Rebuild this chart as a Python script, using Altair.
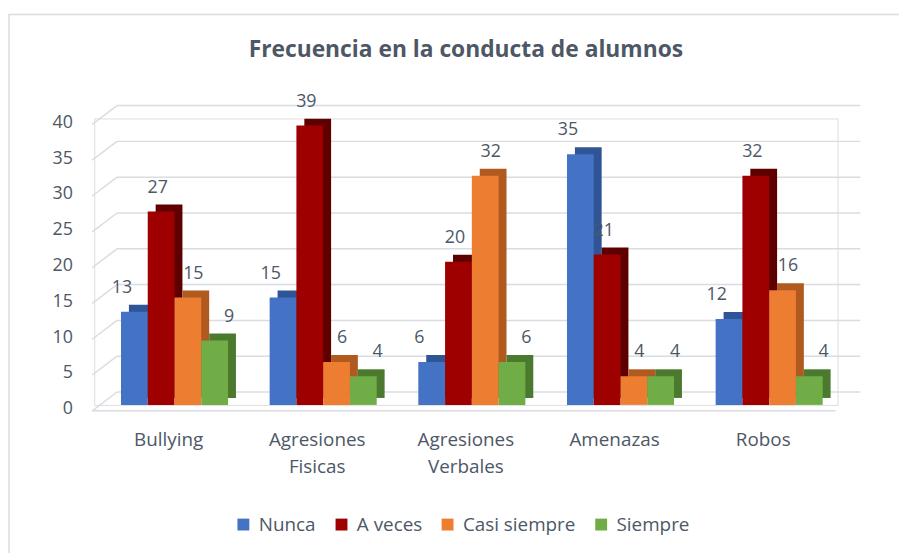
import altair as alt
import pandas as pd

categories = ["Bullying", "Agresiones Fisicas", "Agresiones Verbales", "Amenazas", "Robos"]
series = ["Nunca", "A veces", "Casi siempre", "Siempre"]
nunca = [13, 15, 6, 35, 12]
a_veces = [27, 39, 20, 21, 32]
casi_siempre = [15, 6, 32, 4, 16]
siempre = [9, 4, 6, 4, 4]
y_ticks = [0, 5, 10, 15, 20, 25, 30, 35, 40]

front_colors = ["#4472c4", "#9e0000", "#ed7d31", "#70ad47"]
side_colors = ["#2f5597", "#5e0000", "#b05a1f", "#4b792e"]
text_color = "#4d5766"
grid_color = "#d9dce3"
FONT = "Open Sans"

rows = []
for s, vals in zip(series, [nunca, a_veces, casi_siempre, siempre]):
    for c, v in zip(categories, vals):
        rows.append({"cat": c, "series": s, "value": v})
df = pd.DataFrame(rows)
grid_df = pd.DataFrame({"v": y_ticks})

W, H = 750, 289
yscale = alt.Scale(domain=[0, 40], nice=False, zero=True)
xscale = alt.Scale(domain=categories, paddingInner=0, paddingOuter=0)

XAXIS = alt.Axis(domain=False, ticks=False, grid=False, labelAngle=0, labelPadding=26, labelFontSize=19,
                 labelFont=FONT, labelColor=text_color, labelLineHeight=27,
                 labelExpr="split(datum.label, ' ')")
YAXIS = alt.Axis(values=y_ticks, grid=False, domain=False, ticks=False, labelPadding=22,
                 labelOffset=4, labelFontSize=18, labelFont=FONT, labelColor=text_color)


def xenc():
    return alt.X("cat:N", scale=xscale, sort=categories, axis=XAXIS, title=None)


def yenc(field):
    return alt.Y(field, scale=yscale, axis=YAXIS, title=None)


def xoff(r0):
    return alt.XOffset("series:N", sort=series,
                       scale=alt.Scale(domain=series, range=[r0, r0 + 108], paddingInner=0, paddingOuter=0))


border = alt.Chart(grid_df).transform_filter("datum.v == 0").mark_rect(
    fillOpacity=0, stroke=grid_color, strokeWidth=1.5
).encode(x=alt.value(-86), x2=alt.value(830), y=alt.value(-105), y2=alt.value(470))

back_grid = alt.Chart(grid_df).mark_rule(color=grid_color, strokeWidth=1.5, yOffset=-13).encode(
    y=yenc("v:Q"), x=alt.value(23), x2=alt.value(773)
)
diag = alt.Chart(grid_df).mark_rule(color=grid_color, strokeWidth=1.5, yOffset=6, y2Offset=-13).encode(
    y=yenc("v:Q"), y2="v:Q", x=alt.value(-2), x2=alt.value(23)
)
floor = alt.Chart(grid_df).transform_filter("datum.v == 0").mark_rule(
    color=grid_color, strokeWidth=1.5, yOffset=6
).encode(y=yenc("v:Q"), x=alt.value(-2), x2=alt.value(748))

shadow = alt.Chart(df).mark_bar(yOffset=-7, y2Offset=-7).encode(
    x=xenc(),
    xOffset=xoff(35),
    y=yenc("value:Q"),
    color=alt.Color("series:N", scale=alt.Scale(domain=series, range=side_colors), legend=None),
)

front = alt.Chart(df).mark_bar().encode(
    x=xenc(),
    xOffset=xoff(27),
    y=yenc("value:Q"),
    color=alt.Color("series:N", scale=alt.Scale(domain=series, range=front_colors),
                    legend=alt.Legend(orient="none", legendX=141, legendY=400, direction="horizontal",
                                      title=None, symbolType="square", symbolSize=144,
                                      symbolStrokeWidth=0, labelFontSize=19, labelFont=FONT,
                                      labelColor=text_color, columnPadding=16, labelOffset=6,
                                      padding=0)),
)

labels = alt.Chart(df).mark_text(dy=-24, dx=1, fontSize=18, font=FONT, color=text_color,
                                 baseline="middle").encode(
    x=xenc(),
    xOffset=xoff(27),
    y=yenc("value:Q"),
    text="value:Q",
)

chart = alt.layer(border, back_grid, diag, floor, shadow, front, labels).resolve_scale(
    xOffset="independent", color="independent"
).properties(
    width=W, height=H,
    autosize=alt.AutoSizeParams(type="none"),
    padding={"left": 87, "top": 109, "right": 62, "bottom": 147},
    title=alt.Title("Frecuencia en la conducta de alumnos", fontSize=23, fontWeight="bold",
                    font=FONT, color=text_color, anchor="middle", offset=0, dy=49),
).configure_view(stroke=None).configure(background="white")

chart.save("out.html", embed_options={"renderer": "svg", "actions": False})
